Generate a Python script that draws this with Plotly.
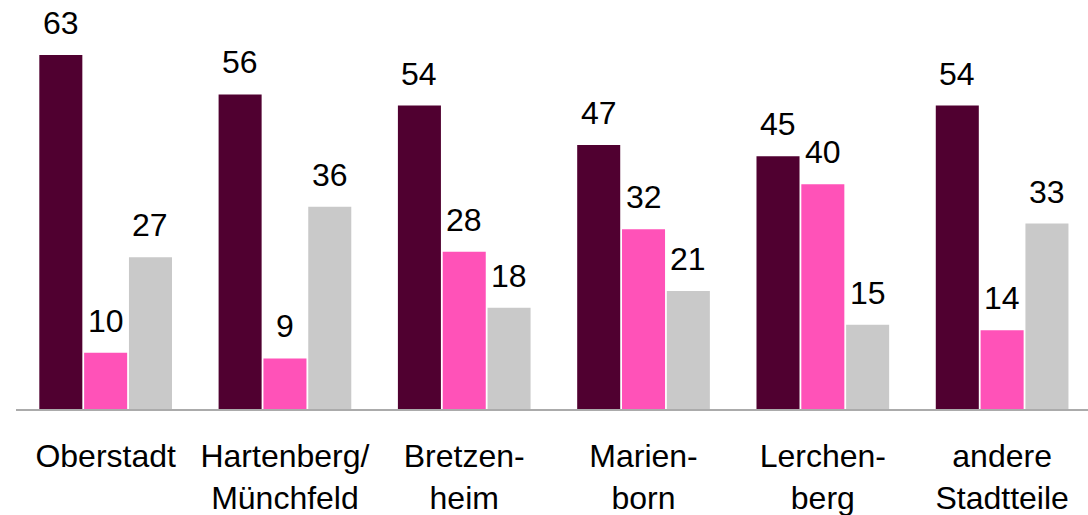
import plotly.graph_objects as go

categories = ["Oberstadt", "Hartenberg/<br>Münchfeld", "Bretzen-<br>heim",
              "Marien-<br>born", "Lerchen-<br>berg", "andere<br>Stadtteile"]
series_a = [63, 56, 54, 47, 45, 54]
series_b = [10, 9, 28, 32, 40, 14]
series_c = [27, 36, 18, 21, 15, 33]
series_names = ["A", "B", "C"]
colors = ["#500030", "#FF52B8", "#C9C9C9"]

FONT = "Liberation Sans, Arial, sans-serif"
BARGAP = 0.25
BARGROUPGAP = 0.04
X_RANGE = [-0.5, 5.479]
W, H = 1088, 515
ML, MR, MT, MB = 16, 0, 0, 106

fig = go.Figure()
all_series = [series_a, series_b, series_c]
for name, vals, col in zip(series_names, all_series, colors):
    fig.add_trace(go.Bar(x=categories, y=vals, name=name,
                         marker=dict(color=col, line=dict(width=0))))

# value labels above bars
plot_w = W - ML - MR
cat_px = plot_w / (X_RANGE[1] - X_RANGE[0])
slot = cat_px * (1 - BARGAP) / len(all_series)
annotations = []
for i, vals in enumerate(all_series):
    shift = (i - (len(all_series) - 1) / 2) * slot
    for c, v in zip(categories, vals):
        annotations.append(dict(x=c, y=v, xref="x", yref="y", text=str(v),
                                showarrow=False, xshift=shift, yshift=12,
                                yanchor="bottom", xanchor="center",
                                font=dict(family=FONT, size=32, color="#000000")))

fig.update_layout(
    width=W, height=H,
    margin=dict(l=ML, r=MR, t=MT, b=MB, autoexpand=False),
    barmode="group", bargap=BARGAP, bargroupgap=BARGROUPGAP,
    plot_bgcolor="white", paper_bgcolor="white",
    showlegend=False,
    font=dict(family=FONT, size=32, color="#000000"),
    annotations=annotations,
)
fig.update_xaxes(range=X_RANGE, showline=True, linecolor="#ABABAB", linewidth=2,
                 showgrid=False, zeroline=False, ticks="", automargin=False,
                 tickfont=dict(family=FONT, size=32, color="#000000"),
                 ticklabelstandoff=18)
fig.update_yaxes(range=[0, 72.8], visible=False, showgrid=False, zeroline=False,
                 automargin=False)

fig.write_html("out.html", config={"displayModeBar": False},
               post_script="document.body.style.margin='0';document.body.style.overflow='hidden';")
